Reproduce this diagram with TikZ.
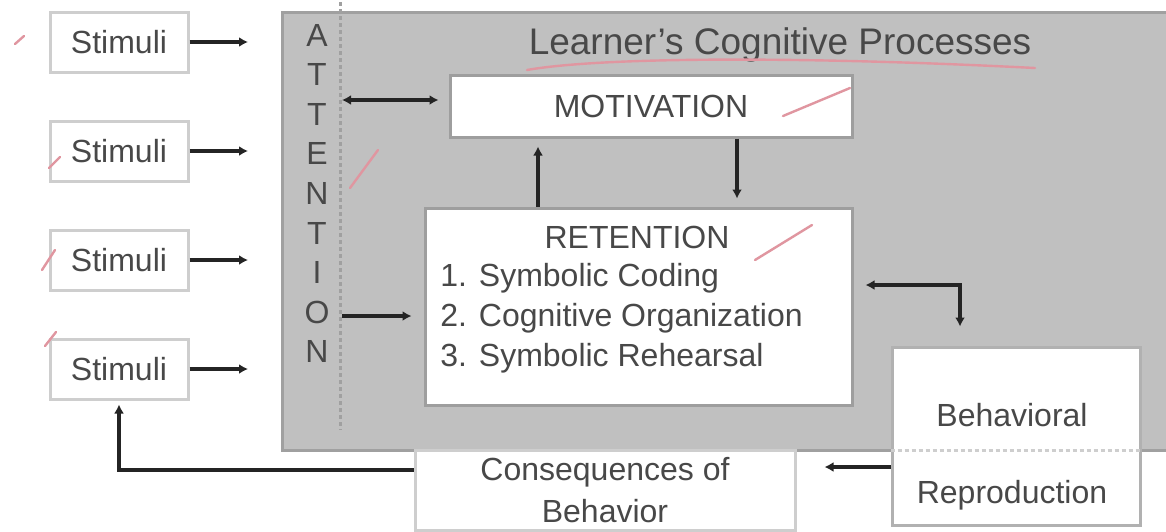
\documentclass[tikz,border=0pt]{standalone}
\usepackage{fontspec}
\setmainfont{Liberation Sans}
\usetikzlibrary{arrows.meta,positioning}

\definecolor{panelgray}{RGB}{192,192,192}
\definecolor{paneledge}{RGB}{160,160,160}
\definecolor{boxedge}{RGB}{158,158,158}
\definecolor{softedge}{RGB}{206,206,206}
\definecolor{inkgray}{RGB}{72,72,72}
\definecolor{arrowgray}{RGB}{36,36,36}
\definecolor{pencil}{RGB}{224,150,160}

\begin{document}
\begin{tikzpicture}[
  x=0.5pt, y=-0.5pt,
  txt/.style={font=\fontsize{16}{19}\selectfont, text=inkgray, inner sep=0pt},
  stim/.style={rectangle, draw=softedge, line width=1.5pt, fill=white,
               minimum width=69pt, minimum height=30pt, txt},
  proc/.style={rectangle, draw=boxedge, line width=1.5pt, fill=white, txt},
  arr/.style={draw=arrowgray, line width=1.6pt,
              -{Latex[length=4.5pt,width=5pt]}},
  dblarr/.style={arr, {Latex[length=4.5pt,width=5pt]}-{Latex[length=4.5pt,width=5pt]}},
  attline/.style={draw=paneledge, line width=1.5pt, dash pattern=on 2pt off 1.5pt},
  redpen/.style={draw=pencil, line width=1.2pt, line cap=round},
  node distance=23pt
]
\clip (0,0) rectangle (1166,531);

% grey panel with the attention column
\draw[fill=panelgray, draw=paneledge, line width=1.5pt] (282,12) rectangle (1190,450);
\draw[attline] (340,2) -- (340,430);
\node[txt, align=center, font=\fontsize{16}{19.8}\selectfont] (attn) at (317,193.5)
  {A\\T\\T\\E\\N\\T\\I\\O\\N};
\node[txt, font=\fontsize{18.5}{22}\selectfont] (title) at (780,45)
  {Learner's Cognitive Processes};

% stimuli
\node[stim] (stim1) at (119,42) {Stimuli};
\node[stim, below=of stim1] (stim2) {Stimuli};
\node[stim, below=of stim2] (stim3) {Stimuli};
\node[stim, below=of stim3] (stim4) {Stimuli};

% processes
\node[proc, minimum width=201pt, minimum height=31pt] (mot) at (651,106) {MOTIVATION};
\node[proc, minimum width=213.5pt, minimum height=98.5pt] (ret) at (638.5,306.5) {};
\node[txt] (rettitle) at (637,237) {RETENTION};
\node[txt, anchor=west, align=left, font=\fontsize{16}{20}\selectfont] (retlist) at (440,318)
  {1. Symbolic Coding\\2. Cognitive Organization\\3. Symbolic Rehearsal};
\node[proc, draw=boxedge!80, minimum width=124pt, minimum height=89pt] (beh) at (1016,436) {};
\coordinate (floor) at (0,450);
\draw[attline, draw=softedge] (beh.west |- floor) -- (beh.east |- floor);
\node[txt] (behtop) at (1012,415) {Behavioral};
\node[txt] (behbot) at (1012,495) {Reproduction};
\node[stim, minimum width=190pt, minimum height=40pt, align=center,
      font=\fontsize{16}{21}\selectfont] (cons) at (605,490) {Consequences of\\Behavior};

% connectors
\coordinate (gate) at (248,0);
\draw[arr] (stim1.east) -- (stim1.east -| gate);
\draw[arr] (stim2.east) -- (stim2.east -| gate);
\draw[arr] (stim3.east) -- (stim3.east -| gate);
\draw[arr] (stim4.east) -- (stim4.east -| gate);

\coordinate (attmot) at (342,100);
\coordinate (attret) at (342,316);
\draw[dblarr, shorten >=5pt] (attmot) -- (attmot -| mot.west);
\draw[arr, shorten >=6pt] (attret) -- (attret -| ret.west);

\coordinate (upx) at (538,0);
\coordinate (downx) at (737,0);
\draw[arr, shorten >=4pt] (ret.north -| upx) -- (mot.south -| upx);
\draw[arr, shorten >=4pt] (mot.south -| downx) -- (ret.north -| downx);

\coordinate (loopy) at (0,285);
\coordinate (loopx) at (960,0);
\draw[dblarr, shorten <=6pt, shorten >=9.5pt] (ret.east |- loopy) -| (beh.north -| loopx);

\coordinate (backy) at (0,467);
\coordinate (fbky) at (0,470);
\draw[arr, shorten >=14pt] (beh.west |- backy) -- (cons.east |- backy);
\draw[arr, shorten >=2pt] (cons.west |- fbky) -| (stim4.south);

% pen marks
\draw[redpen] (527,70) .. controls (600,57) and (800,56) .. (1035,68);
\draw[redpen] (15,44) -- (24,36);
\draw[redpen] (49,168) -- (60,157);
\draw[redpen] (42,270) -- (55,250);
\draw[redpen] (45,346) -- (56,332);
\draw[redpen] (350,188) -- (378,150);
\draw[redpen] (783,116) -- (850,88);
\draw[redpen] (755,260) -- (812,225);
\end{tikzpicture}
\end{document}
